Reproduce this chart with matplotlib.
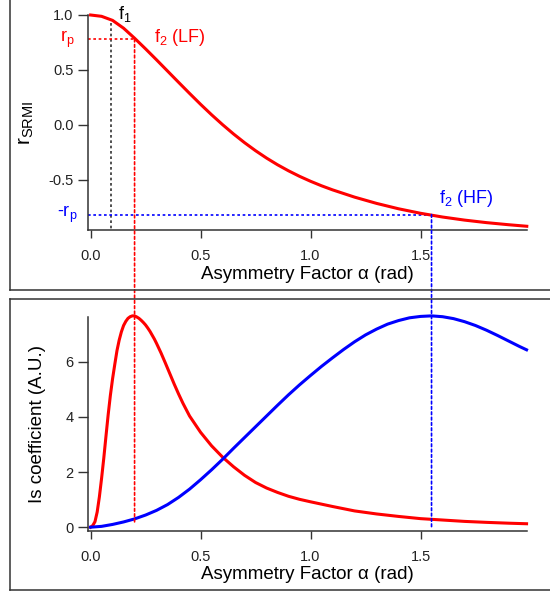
import matplotlib
matplotlib.use('Agg')
import matplotlib.pyplot as plt
from matplotlib.lines import Line2D
from matplotlib.patches import ConnectionPatch

plt.rcParams['font.family'] = ['Liberation Sans', 'DejaVu Sans']
plt.rcParams['axes.unicode_minus'] = False

# r_SRMI versus asymmetry factor (top panel)
alpha_r = [0.0, 0.05, 0.10, 0.15, 0.20, 0.25, 0.30, 0.35, 0.40, 0.45, 0.50,
           0.55, 0.60, 0.65, 0.70, 0.75, 0.80, 0.85, 0.90, 0.95, 1.00, 1.05,
           1.10, 1.20, 1.30, 1.40, 1.50, 1.60, 1.70, 1.80, 1.90, 1.983]
r_srmi = [1.000, 0.988, 0.951, 0.880, 0.789, 0.692, 0.592, 0.490, 0.388,
          0.287, 0.188, 0.093, 0.003, -0.082, -0.161, -0.234, -0.301, -0.362,
          -0.417, -0.467, -0.512, -0.553, -0.590, -0.656, -0.713, -0.762,
          -0.803, -0.837, -0.865, -0.888, -0.907, -0.921]

# Is coefficient, low-frequency (red) curve
alpha_lf = [0.0, 0.01, 0.02, 0.03, 0.04, 0.05, 0.06, 0.07, 0.08, 0.09, 0.10,
            0.11, 0.12, 0.13, 0.14, 0.15, 0.16, 0.17, 0.18, 0.19, 0.20, 0.21,
            0.22, 0.23, 0.24, 0.25, 0.26, 0.27, 0.28, 0.29, 0.30, 0.32, 0.34,
            0.36, 0.38, 0.40, 0.42, 0.45, 0.50, 0.55, 0.60, 0.65, 0.70, 0.75,
            0.80, 0.85, 0.90, 0.95, 1.00, 1.10, 1.20, 1.30, 1.40, 1.50, 1.60,
            1.70, 1.80, 1.90, 1.982]
is_lf = [0.0, 0.06, 0.2, 0.55, 1.1, 1.77, 2.5, 3.3, 4.08, 4.78, 5.38,
         5.9, 6.40, 6.78, 7.08, 7.31, 7.46, 7.57, 7.63, 7.66, 7.66, 7.62,
         7.57, 7.50, 7.42, 7.33, 7.22, 7.10, 6.96, 6.82, 6.66, 6.32, 5.95,
         5.57, 5.19, 4.83, 4.49, 4.03, 3.44, 2.95, 2.54, 2.19, 1.88, 1.62,
         1.42, 1.26, 1.12, 1.01, 0.92, 0.75, 0.59, 0.48, 0.39, 0.31, 0.26,
         0.21, 0.175, 0.145, 0.125]

# Is coefficient, high-frequency (blue) curve
alpha_hf = [0.0, 0.05, 0.10, 0.15, 0.20, 0.25, 0.30, 0.35, 0.40, 0.45, 0.50,
            0.55, 0.60, 0.65, 0.70, 0.75, 0.80, 0.85, 0.90, 0.95, 1.00, 1.05,
            1.10, 1.15, 1.20, 1.25, 1.30, 1.35, 1.40, 1.45, 1.50, 1.55, 1.60,
            1.65, 1.70, 1.75, 1.80, 1.85, 1.90, 1.95, 1.982]
is_hf = [0.0, 0.03, 0.10, 0.19, 0.30, 0.44, 0.61, 0.82, 1.08, 1.38, 1.72,
         2.08, 2.46, 2.86, 3.25, 3.64, 4.03, 4.42, 4.80, 5.16, 5.50, 5.83,
         6.14, 6.44, 6.72, 6.97, 7.18, 7.36, 7.49, 7.59, 7.64, 7.66, 7.63,
         7.56, 7.45, 7.31, 7.14, 6.95, 6.75, 6.55, 6.43]

# marker values
f1_alpha = 0.095
lf_alpha = 0.2
hf_alpha = 1.55
rp = 0.78
neg_rp = -0.815

top_xticks = [0.0, 0.5, 1.0, 1.5]
top_yticks = [-0.5, 0.0, 0.5, 1.0]
bot_yticks = [0, 2, 4, 6]

RED = '#ff0000'
BLUE = '#0000ff'
AXC = '#333333'
dot = (0, (1.6, 1.6))

W, H = 550, 596
fig = plt.figure(figsize=(W / 100, H / 100), dpi=100)

ax1 = fig.add_axes([87.5 / W, (H - 230) / H, 439.5 / W, 215 / H])
ax2 = fig.add_axes([87.5 / W, (H - 530.5) / H, 439.5 / W, 213.8 / H])

for ax in (ax1, ax2):
    ax.set_facecolor('none')
    for side in ('top', 'right'):
        ax.spines[side].set_visible(False)
    for side in ('left', 'bottom'):
        ax.spines[side].set_color(AXC)
        ax.spines[side].set_linewidth(1.1)
    ax.tick_params(axis='both', direction='out', color=AXC, width=1.0,
                   labelsize=10.5, labelcolor='#222222')
    ax.tick_params(axis='y', length=7.5, pad=2.5)
    ax.tick_params(axis='x', length=5.5, pad=8.5)
    ax.set_xlim(-0.014, 1.984)
    ax.set_xticks(top_xticks)
    ax.set_xticklabels([f'{v:.1f}' for v in top_xticks])
    ax.set_xlabel('Asymmetry Factor α (rad)', fontsize=13.5, labelpad=1.5)

line_kw = dict(lw=2.2, clip_on=False, zorder=3, solid_joinstyle='round')

# top panel
ax1.set_ylim(-0.955, 1.0)
ax1.set_yticks(top_yticks)
ax1.set_yticklabels([f'{v:.1f}' for v in top_yticks])
ax1.plot(alpha_r, r_srmi, color=RED, **line_kw)
ax1.set_ylabel(r'$\mathregular{r_{SRMI}}$', fontsize=15, labelpad=9)

ax1.plot([f1_alpha, f1_alpha], [0.93, -0.955], color=AXC, lw=1.2, ls=dot)
ax1.plot([-0.014, lf_alpha], [rp, rp], color=RED, lw=1.2, ls=dot)
ax1.plot([-0.014, hf_alpha], [neg_rp, neg_rp], color=BLUE, lw=1.2, ls=dot)

ax1.text(0.125, 0.964, r'$\mathregular{f_1}$', fontsize=13, color='black',
         va='baseline', ha='left')
ax1.text(0.288, 0.755, r'$\mathregular{f_2}$ (LF)', fontsize=13, color=RED,
         va='baseline', ha='left')
ax1.text(1.584, -0.71, r'$\mathregular{f_2}$ (HF)', fontsize=13, color=BLUE,
         va='baseline', ha='left')
ax1.annotate(r'$\mathregular{r_p}$', xy=(0, rp), xycoords=('axes fraction', 'data'),
             xytext=(-9, 0), textcoords='offset points', ha='right', va='center',
             fontsize=13, color=RED)
ax1.annotate(r'-$\mathregular{r_p}$', xy=(0, neg_rp), xycoords=('axes fraction', 'data'),
             xytext=(-7, 0), textcoords='offset points', ha='right', va='center',
             fontsize=13, color=BLUE)

# bottom panel
ax2.set_ylim(-0.12, 7.63)
ax2.set_yticks(bot_yticks)
ax2.plot(alpha_lf, is_lf, color=RED, **line_kw)
ax2.plot(alpha_hf, is_hf, color=BLUE, **line_kw)
ax2.set_ylabel('Is coefficient (A.U.)', fontsize=13.5, labelpad=14)

# dotted guides running from the top panel down into the bottom panel
for a, y_top, y_bot, c in ((lf_alpha, rp, 0.1, RED), (hf_alpha, neg_rp, 0.0, BLUE)):
    con = ConnectionPatch(xyA=(a, y_top), coordsA=ax1.transData,
                          xyB=(a, y_bot), coordsB=ax2.transData,
                          arrowstyle='-', color=c, lw=1.2, linestyle=dot, zorder=2)
    fig.add_artist(con)

# panel frames
def frame(x0, y0, x1, y1):
    fig.add_artist(Line2D([x0 / W, x1 / W], [1 - y0 / H, 1 - y1 / H],
                          color=AXC, lw=1.1))

frame(10, 0, 10, 290)
frame(10, 290, 550, 290)
frame(10, 299, 10, 590)
frame(10, 299, 550, 299)
frame(10, 590, 550, 590)

fig.savefig('out.png', dpi=100)
